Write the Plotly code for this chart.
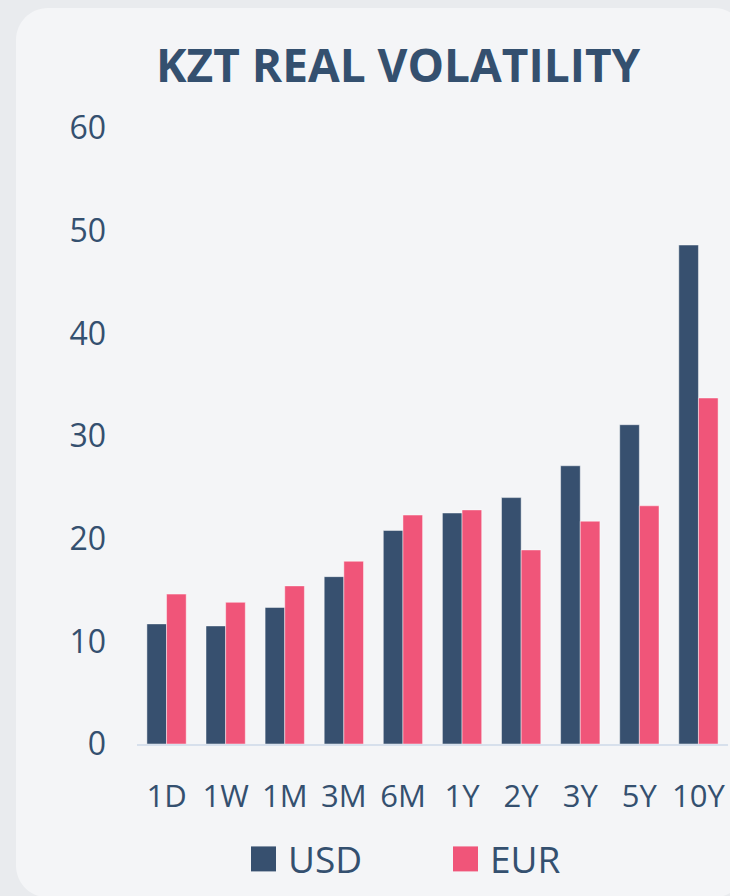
import plotly.graph_objects as go

# Tenors and realised volatility (%) for KZT against USD and EUR
tenors = ["1D", "1W", "1M", "3M", "6M", "1Y", "2Y", "3Y", "5Y", "10Y"]
usd_vol = [11.7, 11.5, 13.3, 16.3, 20.8, 22.5, 24.0, 27.1, 31.1, 48.6]
eur_vol = [14.6, 13.8, 15.4, 17.8, 22.3, 22.8, 18.9, 21.7, 23.2, 33.7]
y_ticks = [0, 10, 20, 30, 40, 50, 60]

USD_COLOR = "#37506f"
EUR_COLOR = "#f05579"
TEXT_COLOR = "#34506f"
FONT = "Open Sans"

W, H = 730, 896
ML, MR, MT, MB = 137, 2, 128, 151.5
PW, PH = W - ML - MR, H - MT - MB


def px(x):
    return (x - ML) / PW


def py(y):
    return (H - MB - y) / PH


def rounded_rect(x0, y0, x1, y1, r):
    k = 0.5523 * r
    pts = [
        ("M", [(x0 + r, y0)]),
        ("L", [(x1 - r, y0)]),
        ("C", [(x1 - r + k, y0), (x1, y0 + r - k), (x1, y0 + r)]),
        ("L", [(x1, y1 - r)]),
        ("C", [(x1, y1 - r + k), (x1 - r + k, y1), (x1 - r, y1)]),
        ("L", [(x0 + r, y1)]),
        ("C", [(x0 + r - k, y1), (x0, y1 - r + k), (x0, y1 - r)]),
        ("L", [(x0, y0 + r)]),
        ("C", [(x0, y0 + r - k), (x0 + r - k, y0), (x0 + r, y0)]),
    ]
    out = []
    for cmd, coords in pts:
        out.append(cmd + " ".join(f"{px(a):.5f},{py(b):.5f}" for a, b in coords))
    return " ".join(out) + " Z"


fig = go.Figure()
fig.add_trace(go.Bar(
    x=tenors, y=usd_vol, name="USD",
    marker=dict(color=USD_COLOR, line=dict(color="rgba(255,255,255,0.45)", width=1)),
    showlegend=False,
))
fig.add_trace(go.Bar(
    x=tenors, y=eur_vol, name="EUR",
    marker=dict(color=EUR_COLOR, line=dict(color="rgba(255,255,255,0.45)", width=1)),
    showlegend=False,
))

shapes = [
    dict(type="path", xref="paper", yref="paper", layer="below",
         path=rounded_rect(16, 8, 746, 898, 32),
         fillcolor="#f4f5f7", line=dict(width=0)),
]
annotations = [
    dict(text="<b>KZT REAL VOLATILITY</b>", xref="paper", yref="paper",
         x=px(398.5), y=py(64), xanchor="center", yanchor="middle",
         showarrow=False, font=dict(family=FONT, size=46, color=TEXT_COLOR)),
]

# Legend: coloured square plus series name
for name, color, sx in [("USD", USD_COLOR, 251), ("EUR", EUR_COLOR, 453)]:
    shapes.append(dict(type="rect", xref="paper", yref="paper",
                       x0=px(sx), x1=px(sx + 25), y0=py(872), y1=py(847),
                       fillcolor=color, line=dict(width=0)))
    annotations.append(dict(text=name, xref="paper", yref="paper",
                            x=px(sx + 35), y=py(859.5), xanchor="left", yanchor="middle",
                            showarrow=False,
                            font=dict(family=FONT, size=37, color=TEXT_COLOR)))

fig.update_layout(
    width=W, height=H,
    margin=dict(l=ML, r=MR, t=MT, b=MB, pad=0),
    paper_bgcolor="#e9ebee",
    plot_bgcolor="rgba(0,0,0,0)",
    barmode="group", bargap=0.335, bargroupgap=0,
    font=dict(family=FONT, color=TEXT_COLOR),
    shapes=shapes, annotations=annotations,
    showlegend=False,
)
fig.update_xaxes(
    showgrid=False, showline=True, linecolor="#d7e0ec", linewidth=2,
    ticks="", tickfont=dict(size=31, color=TEXT_COLOR), ticklabelstandoff=24,
)
fig.update_yaxes(
    range=[0, 60], tickvals=y_ticks, showgrid=False, zeroline=False,
    showline=False, ticks="", tickfont=dict(size=32, color=TEXT_COLOR),
    ticklabelstandoff=30,
)

fig.write_html("out.html")
